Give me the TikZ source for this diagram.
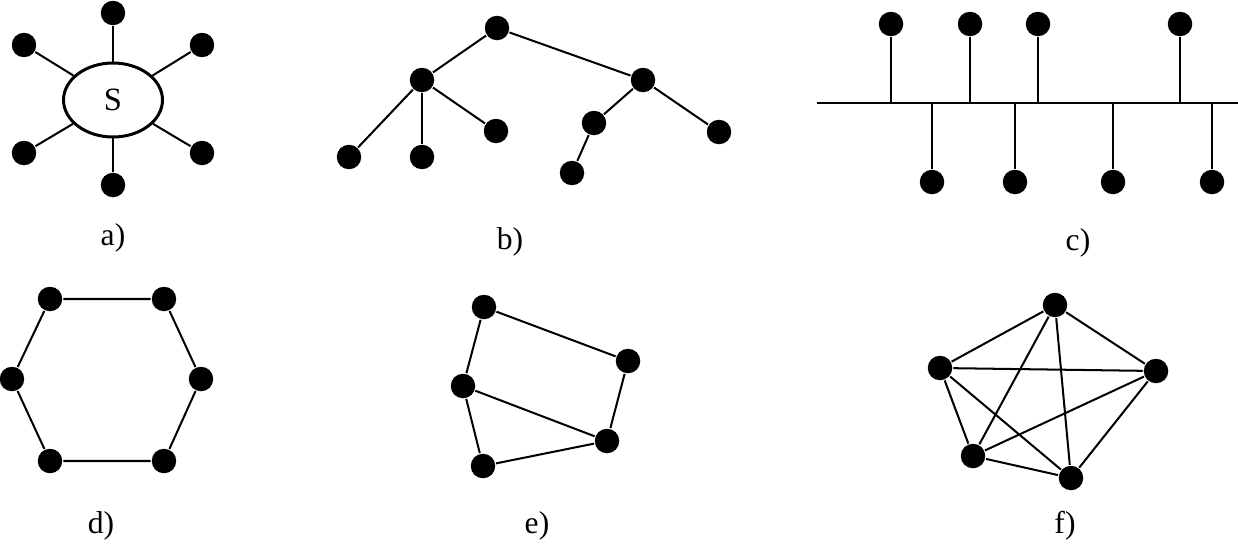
\documentclass[tikz,border=0pt]{standalone}
\usepackage{fontspec}
\setmainfont{Liberation Serif}
\usetikzlibrary{shapes.geometric}

\begin{document}
\begin{tikzpicture}[x=0.02cm,y=-0.02cm,line width=1.15pt,dot/.style={circle,fill=black,inner sep=0pt,minimum size=0.49cm},hub/.style={ellipse,draw,line width=1.7pt,minimum width=1.98cm,minimum height=1.48cm,inner sep=0pt,font=\fontsize{18.5}{21}\selectfont},caption/.style={font=\fontsize{18}{21}\selectfont}]
\useasboundingbox (0,0) rectangle (1238,545);
% a) star
\node[hub] (S) at (113,100) {S};
\node[dot] (a1) at (113,13) {};
\node[dot] (a2) at (24,45) {};
\node[dot] (a3) at (202,45) {};
\node[dot] (a4) at (24,153) {};
\node[dot] (a5) at (202,153) {};
\node[dot] (a6) at (113,185) {};
\draw (a1) -- (S); \draw (a2) -- (S); \draw (a3) -- (S);
\draw (a4) -- (S); \draw (a5) -- (S); \draw (a6) -- (S);
\node[caption] (capa) at (113,238) {a)};
% b) tree
\node[dot] (root) at (497,28) {};
\node[dot] (bl) at (422,80) {};
\node[dot] (br) at (643,80) {};
\node[dot] (bl1) at (349,157) {};
\node[dot] (bl2) at (422,157) {};
\node[dot] (bl3) at (496,131) {};
\node[dot] (br1) at (594,123) {};
\node[dot] (br2) at (719,132) {};
\node[dot] (br11) at (572,173) {};
\draw (root) -- (bl); \draw (root) -- (br);
\draw (bl) -- (bl1); \draw (bl) -- (bl2); \draw (bl) -- (bl3);
\draw (br) -- (br1); \draw (br) -- (br2); \draw (br1) -- (br11);
\node[caption] (capb) at (510,242) {b)};
% c) bus
\coordinate (busL) at (817,103);
\coordinate (busR) at (1238,103);
\draw (busL) -- (busR);
\node[dot] (c1) at (891,24) {};
\node[dot] (c2) at (970,24) {};
\node[dot] (c3) at (1038,24) {};
\node[dot] (c4) at (1180,24) {};
\node[dot] (c5) at (932,182) {};
\node[dot] (c6) at (1015,182) {};
\node[dot] (c7) at (1113,182) {};
\node[dot] (c8) at (1212,182) {};
\foreach \n in {c1,c2,c3,c4,c5,c6,c7,c8}
  \draw (\n) -- (\n |- busL);
\node[caption] (capc) at (1078,243) {c)};
% d) ring
\node[dot] (d1) at (50,299) {};
\node[dot] (d2) at (164,299) {};
\node[dot] (d3) at (201,379) {};
\node[dot] (d4) at (164,461) {};
\node[dot] (d5) at (50,461) {};
\node[dot] (d6) at (12,379) {};
\draw (d1) -- (d2) -- (d3) -- (d4) -- (d5) -- (d6) -- (d1);
\node[caption] (capd) at (101,526) {d)};
% e) mesh
\node[dot] (e1) at (484,307) {};
\node[dot] (e2) at (628,361) {};
\node[dot] (e3) at (607,441) {};
\node[dot] (e4) at (483,466) {};
\node[dot] (e5) at (463,386) {};
\draw (e1) -- (e2) -- (e3) -- (e4) -- (e5) -- (e1);
\draw (e5) -- (e3);
\node[caption] (cape) at (537,526) {e)};
% f) full mesh
\node[dot] (f1) at (1055,305) {};
\node[dot] (f2) at (1156,371) {};
\node[dot] (f3) at (1071,478) {};
\node[dot] (f4) at (973,456) {};
\node[dot] (f5) at (940,368) {};
\foreach \i/\j in {f1/f2,f1/f3,f1/f4,f1/f5,f2/f3,f2/f4,f2/f5,f3/f4,f3/f5,f4/f5}
  \draw (\i) -- (\j);
\node[caption] (capf) at (1065,526) {f)};
\end{tikzpicture}
\end{document}
